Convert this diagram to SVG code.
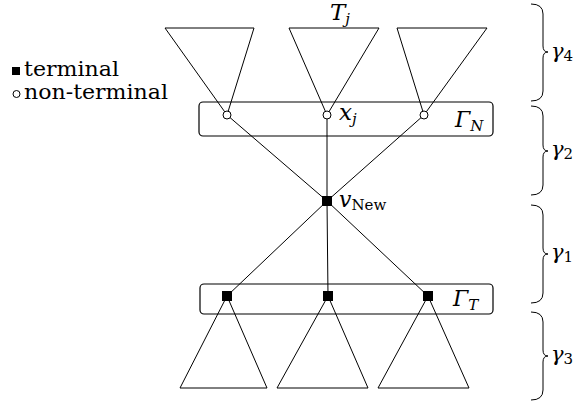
<svg xmlns="http://www.w3.org/2000/svg" width="581" height="403" viewBox="0 0 581 403">
<style>
  .ln { stroke:#000; stroke-width:1; fill:none; }
  .tri { stroke:#000; stroke-width:1; fill:none; stroke-linejoin:miter; }
  .box { stroke:#000; stroke-width:1.2; fill:none; }
  .nt { stroke:#000; stroke-width:1; fill:#fff; }
  .t { fill:#000; }
  .br { stroke:#000; stroke-width:1; fill:none; }
  text { font-family:"DejaVu Serif", serif; fill:#000; }
  .mi { font-style:italic; }
</style>
<rect width="581" height="403" fill="#fff"/>

<g id="legend">
  <rect x="12" y="67" width="8" height="8" class="t"/>
  <text x="24" y="76" font-size="20" textLength="95" lengthAdjust="spacingAndGlyphs">terminal</text>
  <circle cx="16.5" cy="94" r="3.5" class="nt"/>
  <text x="24" y="99" font-size="20" textLength="144" lengthAdjust="spacingAndGlyphs">non-terminal</text>
</g>

<g id="gammaN">
  <rect x="199" y="102" width="294" height="34" rx="4" class="box"/>
  <text x="455" y="127" class="mi" font-size="22">Γ<tspan font-size="15" dy="4">N</tspan></text>
</g>
<g id="gammaT">
  <rect x="200" y="284" width="293" height="30" rx="4" class="box"/>
  <text x="453" y="306" class="mi" font-size="22">Γ<tspan font-size="15" dy="4">T</tspan></text>
</g>

<g id="connectors">
  <line x1="327" y1="201" x2="227" y2="115" class="ln"/>
  <line x1="327" y1="201" x2="327" y2="115" class="ln"/>
  <line x1="327" y1="201" x2="424" y2="115" class="ln"/>
  <line x1="327" y1="201" x2="227" y2="296" class="ln"/>
  <line x1="327" y1="201" x2="328" y2="296" class="ln"/>
  <line x1="327" y1="201" x2="428" y2="296" class="ln"/>
</g>

<g id="top-trees">
  <polygon points="165,28 254,28 227,115" class="tri"/>
  <polygon points="289,28 379,28 327,115" class="tri"/>
  <polygon points="397,28 487,28 424,115" class="tri"/>
  <text x="330" y="20" class="mi" font-size="23">T<tspan font-size="15" dy="4">j</tspan></text>
</g>

<g id="bottom-trees">
  <polygon points="227,296 180,388 267,388" class="tri"/>
  <polygon points="328,296 277,388 368,388" class="tri"/>
  <polygon points="428,296 378,388 469,388" class="tri"/>
</g>

<g id="x1"><circle cx="227" cy="115" r="4" class="nt"/></g>
<g id="xj">
  <circle cx="327" cy="115" r="4" class="nt"/>
  <text x="339" y="120" class="mi" font-size="23">x<tspan font-size="15" dy="4">j</tspan></text>
</g>
<g id="x3"><circle cx="424" cy="115" r="4" class="nt"/></g>

<g id="vnew">
  <rect x="322" y="196" width="10" height="10" class="t"/>
  <text x="339" y="207" class="mi" font-size="22">v<tspan font-style="normal" font-size="15" dy="3">New</tspan></text>
</g>

<g id="t1"><rect x="222" y="291" width="10" height="10" class="t"/></g>
<g id="t2"><rect x="323" y="291" width="10" height="10" class="t"/></g>
<g id="t3"><rect x="423" y="291" width="10" height="10" class="t"/></g>

<g id="braces">
  <path d="M531,4 Q543,4 543,14 L543,46 Q543,52 548,52 Q543,52 543,58 L543,91 Q543,101 531,101" class="br"/>
  <path d="M531,106 Q543,106 543,116 L543,145 Q543,151 548,151 Q543,151 543,157 L543,185 Q543,195 531,195" class="br"/>
  <path d="M531,205 Q543,205 543,215 L543,248 Q543,254 548,254 Q543,254 543,260 L543,293 Q543,303 531,303" class="br"/>
  <path d="M531,312 Q543,312 543,322 L543,350 Q543,356 548,356 Q543,356 543,362 L543,390 Q543,400 531,400" class="br"/>
  <text x="551" y="58" class="mi" font-size="21">γ<tspan font-style="normal" font-size="15" dy="3">4</tspan></text>
  <text x="551" y="156" class="mi" font-size="21">γ<tspan font-style="normal" font-size="15" dy="3">2</tspan></text>
  <text x="551" y="259" class="mi" font-size="21">γ<tspan font-style="normal" font-size="15" dy="3">1</tspan></text>
  <text x="551" y="361" class="mi" font-size="21">γ<tspan font-style="normal" font-size="15" dy="3">3</tspan></text>
</g>
</svg>
